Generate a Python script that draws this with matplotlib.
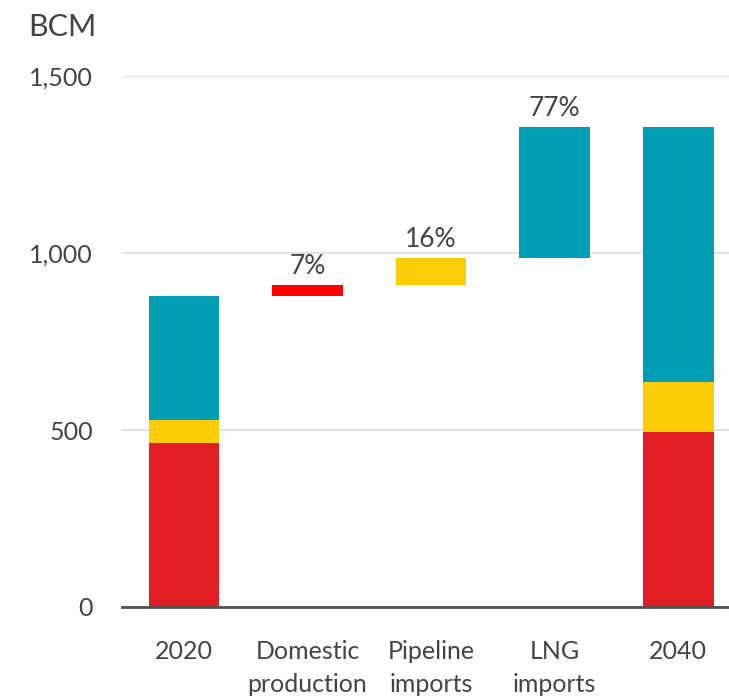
import numpy as np
import matplotlib
matplotlib.use("Agg")
import matplotlib.pyplot as plt

plt.rcParams['font.family'] = ['Lato', 'DejaVu Sans']

# values in BCM
categories = ["2020", "Domestic\nproduction", "Pipeline\nimports", "LNG\nimports", "2040"]
sources = ["Domestic production", "Pipeline imports", "LNG imports"]
base_2020 = [463, 65, 350]       # red, yellow, teal stack in 2020
increase = [32, 76, 370]         # growth 2020 -> 2040 per source
share_labels = ["7%", "16%", "77%"]

stack_colors = ["#E01E23", "#FCCC06", "#009EB5"]
step_colors = ["#FF0000", "#FCCC06", "#009EB5"]
text_col = "#444444"

fig = plt.figure(figsize=(7.29, 6.98), dpi=100)
ax = fig.add_axes([122 / 729, 91 / 698, 607 / 729, 531 / 698])

x = np.arange(len(categories))
w = 0.57

# 2020 stack
bottom = 0
for v, c in zip(base_2020, stack_colors):
    ax.bar(x[0], v, w, bottom=bottom, color=c, linewidth=0)
    bottom += v

# waterfall steps
start = sum(base_2020)
for i, (v, c, lab) in enumerate(zip(increase, step_colors, share_labels)):
    ax.bar(x[i + 1], v, w, bottom=start, color=c, linewidth=0)
    ax.annotate(lab, (x[i + 1], start + v), xytext=(0, 4), textcoords="offset points",
                ha="center", va="bottom", fontsize=19, color=text_col)
    start += v

# 2040 stack
bottom = 0
for v0, dv, c in zip(base_2020, increase, stack_colors):
    ax.bar(x[4], v0 + dv, w, bottom=bottom, color=c, linewidth=0)
    bottom += v0 + dv

ax.set_xlim(-0.5, 4.41)
ax.set_ylim(0, 1500)
ax.set_yticks([0, 500, 1000, 1500])
ax.set_yticklabels(["0", "500", "1,000", "1,500"])
ax.set_xticks(x)
ax.set_xticklabels(categories, linespacing=1.5)
ax.tick_params(axis="both", length=0, labelsize=18, colors=text_col)
ax.tick_params(axis="y", pad=21)
ax.tick_params(axis="x", pad=24)
ax.grid(axis="y", color="#E2E2E2", linewidth=1.5)
ax.set_axisbelow(True)
for s in ["left", "right", "top"]:
    ax.spines[s].set_visible(False)
ax.spines["bottom"].set_color("#505050")
ax.spines["bottom"].set_linewidth(2)
ax.spines["bottom"].set_zorder(5)

fig.text(28 / 729, 1 - 27 / 698, "BCM", fontsize=22, color=text_col, ha="left", va="center")

fig.savefig("out.png", dpi=100)
